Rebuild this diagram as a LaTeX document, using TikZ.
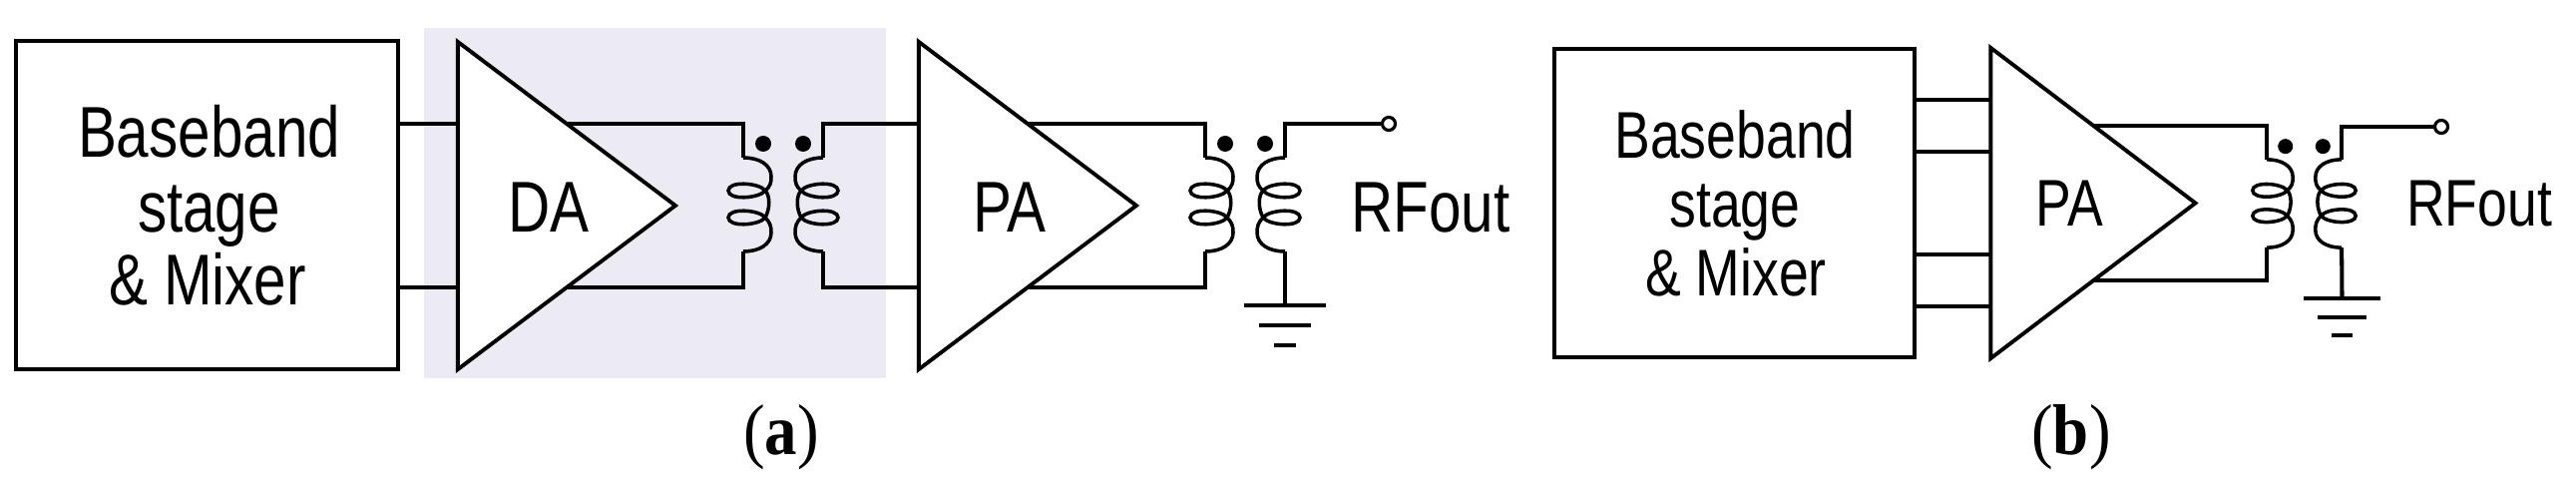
\documentclass[tikz,border=0pt]{standalone}
\usepackage{fontspec}
\setmainfont{Liberation Sans}
\newfontfamily\capfont{Liberation Serif}
\usepackage{xcolor}
\usetikzlibrary{positioning,calc,shapes.geometric}
\definecolor{dashade}{HTML}{ECEAF2}
\newcommand{\narrow}[1]{\scalebox{0.81}[1]{#1}}
\tikzset{
    wireline/.style={draw, line width=1.15pt},
    coilline/.style={draw, line width=1pt},
    bbbox/.style={draw, line width=1.15pt, fill=white, align=center, inner sep=0pt},
    amptri/.style={draw, line width=1.1pt, fill=white, isosceles triangle, isosceles triangle stretches, shape border rotate=0, inner sep=0pt, outer sep=0pt, anchor=apex},
    bigtext/.style={font=\fontsize{20.5}{20.9}\selectfont, anchor=base, inner sep=0pt},
    smalltext/.style={font=\fontsize{18.8}{19.5}\selectfont, anchor=base, inner sep=0pt},
    captext/.style={font=\capfont\fontsize{20.5}{22}\selectfont, anchor=base, inner sep=0pt},
    outpin/.style={draw, line width=0.9pt, circle, fill=white, minimum size=0.13cm, inner sep=0pt},
    daregion/.style={fill=dashade, inner sep=0pt, minimum width=4.63cm, minimum height=3.51cm},
    xfmr/.pic={
        \foreach \sx/\nm in {1/p,-1/s} {
            \draw[coilline, xscale=\sx] (-40,-47) coordinate (-\nm1)
                .. controls (-24,-47) and (-12,-40) .. (-12,-28)
                .. controls (-12,-22) and (-13,-18) .. (-18,-14)
                .. controls (-24,-6) and (-55,-4) .. (-55,-14)
                .. controls (-55,-24) and (-24,-22) .. (-18,-14)
                .. controls (-13,-9) and (-13,4) .. (-18,13)
                .. controls (-24,21) and (-55,23) .. (-55,13)
                .. controls (-55,3) and (-24,5) .. (-18,13)
                .. controls (-13,18) and (-12,22) .. (-12,28)
                .. controls (-12,40) and (-24,47) .. (-40,47) coordinate (-\nm2);
            \fill[xscale=\sx] (-20,-61) circle (8);
        }
    },
    gndsym/.pic={
        \coordinate (-top) at (0,0);
        \draw[wireline] (-41,0) -- (41,0);
        \draw[wireline] (-26,20) -- (26,20);
        \draw[wireline] (-11,40) -- (11,40);
    }
}
\begin{document}
\begin{tikzpicture}[x=0.01cm, y=-0.01cm]
    \useasboundingbox (0,0) rectangle (2582,491);
    \node[daregion] (dareg) at (656.5,203.5) {};

    \node[bbbox, minimum width=3.82cm, minimum height=3.28cm] (bba) at (207.5,205.5) {};
    \node[amptri, minimum width=3.28cm, minimum height=2.18cm] (da) at (677,206) {};
    \node[amptri, minimum width=3.28cm, minimum height=2.18cm] (pa) at (1139,206) {};
    \pic (txa) at (785,205) {xfmr};
    \pic (txb) at (1248,205) {xfmr};
    \node[outpin] (rfa) at (1392,124) {};
    \pic (gnda) at (1288,306) {gndsym};

    \coordinate (datop) at ($(da.apex)!.5!(da.left corner)$);
    \coordinate (dabot) at ($(da.apex)!.5!(da.right corner)$);
    \coordinate (patop) at ($(pa.apex)!.5!(pa.left corner)$);
    \coordinate (pabot) at ($(pa.apex)!.5!(pa.right corner)$);

    \draw[wireline] (bba.east |- datop) -- (da.lower side |- datop);
    \draw[wireline] (bba.east |- dabot) -- (da.lower side |- dabot);
    \draw[wireline] (datop) -| (txa-p1);
    \draw[wireline] (dabot) -| (txa-p2);
    \draw[wireline] (txa-s1) |- (pa.lower side |- patop);
    \draw[wireline] (txa-s2) |- (pa.lower side |- pabot);
    \draw[wireline] (patop) -| (txb-p1);
    \draw[wireline] (pabot) -| (txb-p2);
    \draw[wireline] (txb-s1) |- (rfa);
    \draw[wireline] (txb-s2) -- (gnda-top);

    \node[bigtext] (bbatxt1) at (209.5,158) {\narrow{Baseband}};
    \node[bigtext] (bbatxt2) at (209.5,232) {\narrow{stage}};
    \node[bigtext] (bbatxt3) at (208,305) {\narrow{\& Mixer}};
    \node[bigtext] (dalabel) at (550,232) {\narrow{DA}};
    \node[bigtext] (palabel) at (1012,232) {\narrow{PA}};
    \node[bigtext] (rfalabel) at (1434,232) {\narrow{RFout}};
    \node[captext] (capa) at (783,455) {\scalebox{0.9}[1]{(\textbf{a})}};

    \node[bbbox, minimum width=3.6cm, minimum height=3.09cm] (bbb) at (1738.5,203.5) {};
    \node[amptri, minimum width=3.11cm, minimum height=2.05cm] (pb) at (2200.5,203.5) {};
    \pic[scale=0.94] (txc) at (2309.5,204) {xfmr};
    \node[outpin] (rfb) at (2447,127) {};
    \pic[scale=0.93] (gndb) at (2347.5,299) {gndsym};

    \coordinate (pbtop) at ($(pb.apex)!.5!(pb.left corner)$);
    \coordinate (pbbot) at ($(pb.apex)!.5!(pb.right corner)$);

    \foreach \fr/\cn in {.667/left corner,.333/left corner,.333/right corner,.667/right corner} {
        \coordinate (tap) at ($(pb.lower side)!\fr!(pb.\cn)$);
        \draw[wireline] (bbb.east |- tap) -- (tap);
    }
    \draw[wireline] (pbtop) -| (txc-p1);
    \draw[wireline] (pbbot) -| (txc-p2);
    \draw[wireline] (txc-s1) |- (rfb);
    \draw[wireline] (txc-s2) -- (gndb-top);

    \node[smalltext] (bbbtxt1) at (1739,159) {\narrow{Baseband}};
    \node[smalltext] (bbbtxt2) at (1739,228) {\narrow{stage}};
    \node[smalltext] (bbbtxt3) at (1740,296) {\narrow{\& Mixer}};
    \node[smalltext] (pblabel) at (2074,227) {\narrow{PA}};
    \node[smalltext] (rfblabel) at (2485,227) {\narrow{RFout}};
    \node[captext] (capb) at (2076,455) {\scalebox{0.9}[1]{(\textbf{b})}};
\end{tikzpicture}
\end{document}
